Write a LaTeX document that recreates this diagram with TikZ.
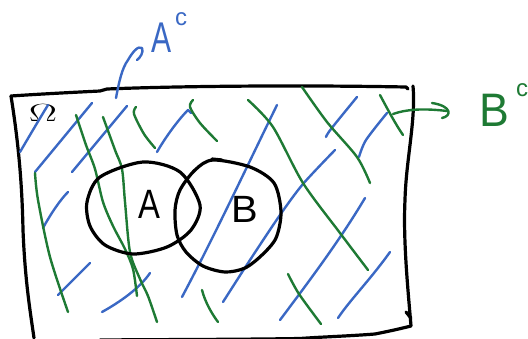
\documentclass[tikz,border=0pt]{standalone}
\usepackage{fontspec}
\setsansfont{Liberation Sans}
\usetikzlibrary{shapes.geometric}
\definecolor{hblue}{HTML}{3A68C4}
\definecolor{hgreen}{HTML}{1E7A34}
\tikzset{
  bl/.style={draw=hblue, line width=2.4pt, line cap=round, line join=round},
  gr/.style={draw=hgreen, line width=2.4pt, line cap=round, line join=round},
  bk/.style={draw=black, line width=3.2pt, line cap=round, line join=round},
  bigletter/.style={inner sep=0pt, font=\sffamily\fontsize{41}{41}\selectfont},
}
\begin{document}
\begin{tikzpicture}[x=1pt,y=-1pt]
\useasboundingbox (0,0) rectangle (528,338);
% frame
\draw[bk] (11,96) .. controls (40,94) and (80,92) .. (100,91) -- (107,89)
  .. controls (180,86) and (300,85) .. (406,87) -- (408,89);
\draw[bk] (413,86) .. controls (416,120) and (406,160) .. (405,200)
  .. controls (403,240) and (408,290) .. (411,326)
  .. controls (395,330) and (385,332) .. (375,334)
  .. controls (350,336) and (320,337) .. (300,338.5)
  .. controls (240,339.5) and (160,339.5) .. (100,340);
\draw[bk] (406,312) -- (411,318);
\draw[bk] (11,96) .. controls (18,140) and (22,180) .. (23,230)
  .. controls (25,280) and (30,310) .. (34,338);
% Omega
\node[inner sep=0pt, xscale=1.7, font=\fontsize{25}{25}\selectfont] (om) at (43,113) {$\Omega$};
% blue hatching
\draw[bl] (20,152) .. controls (30,135) and (40,118) .. (48,105);
\draw[bl] (35,172) -- (92,103);
\draw[bl] (72,172) -- (127,106);
\draw[bl] (43,228) .. controls (50,215) and (60,200) .. (68,192);
\draw[bl] (58,295) -- (90,263);
\draw[bl] (102,312) .. controls (120,302) and (140,288) .. (150,273);
\draw[bl] (157,152) .. controls (165,138) and (178,120) .. (188,110) -- (191,113);
\draw[bl] (277,105) .. controls (250,160) and (215,235) .. (182,297);
\draw[bl] plot[smooth] coordinates {(335,150) (303,184) (280,215) (250,260) (223,302)};
\draw[bl] plot[smooth] coordinates {(326,137) (331,129) (357,97)};
\draw[bl] plot[smooth] coordinates {(359,157) (366,140) (387,113)};
\draw[bl] (365,198) .. controls (340,240) and (310,280) .. (280,320);
\draw[bl] (390,252) .. controls (370,280) and (350,300) .. (338,318);
% green hatching
\draw[gr] plot[smooth] coordinates {(35,173) (38,200) (50,257) (68,312)};
\draw[gr] plot[smooth] coordinates {(76,115) (86,145) (95,169) (103,202) (113,226) (125,249) (133,269) (137,296)};
\draw[gr] plot[smooth] coordinates {(103,117) (115,150) (122,169) (125,202) (130,252) (140,279) (148,296) (157,322)};
\draw[gr] plot[smooth] coordinates {(136,107) (134,114) (144,134) (155,148)};
\draw[gr] plot[smooth] coordinates {(193,100) (190,107) (200,123) (217,141)};
\draw[gr] plot[smooth] coordinates {(248,100) (273,127) (303,183) (340,233) (368,270)};
\draw[gr] plot[smooth] coordinates {(302,87) (327,122) (357,157) (370,183)};
\draw[gr] (380,95) .. controls (388,110) and (396,125) .. (403,135);
\draw[gr] (202,290) .. controls (205,302) and (212,314) .. (218,322);
\draw[gr] plot[smooth] coordinates {(288,274) (299,294) (321,324)};
% sets
\draw[bk] plot[smooth cycle] coordinates {(143,162) (180,172) (200,205) (191,230) (167,247) (133,254) (105,245) (90,226) (87,202) (100,177)};
\draw[bk] plot[smooth cycle] coordinates {(213,160) (250,167) (274,183) (281,212) (276,238) (262,255) (245,268) (225,272) (203,266) (186,252) (177,235) (175,210) (180,190) (195,170)};
\draw[bk] (212,159) -- (222,160);
\node[bigletter, xscale=0.8] (la) at (149,204) {A};
\node[bigletter, font=\sffamily\fontsize{38}{38}\selectfont, xscale=1.05] (lb) at (245,209) {B};
% complement labels
\node[inner sep=0pt, text=hblue, font=\sffamily\fontsize{43}{43}\selectfont, xscale=0.7] (ac) at (162,38) {A};
\node[inner sep=0pt, text=hblue, font=\sffamily\fontsize{24}{24}\selectfont] (acs) at (181,19) {c};
\coordinate (aleader) at (116,98);
\draw[bl] (aleader) .. controls (119,82) and (122,68) .. (128,60)
  .. controls (132,53) and (138,45) .. (142,48) .. controls (144,52) and (140,58) .. (137,60);
\node[inner sep=0pt, text=hgreen, font=\sffamily\fontsize{47}{47}\selectfont, xscale=0.95] (bc) at (494,110) {B};
\node[inner sep=0pt, text=hgreen, font=\sffamily\fontsize{24}{24}\selectfont] (bcs) at (522,90) {c};
\coordinate (bleader) at (393,114);
\draw[gr] (bleader) .. controls (410,108) and (430,109) .. (447,111);
\draw[gr] (432,103) .. controls (452,106) and (452,116) .. (442,118);
\end{tikzpicture}
\end{document}
